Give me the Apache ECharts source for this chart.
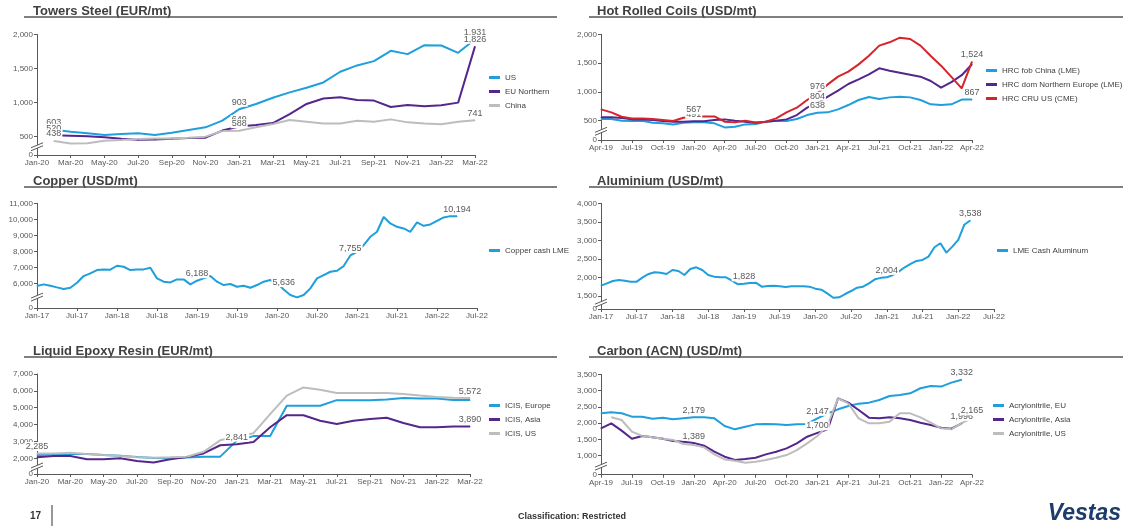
<!DOCTYPE html>
<html>
<head>
<meta charset="utf-8">
<script src="https://cdn.jsdelivr.net/npm/echarts@6/dist/echarts.min.js"></script>
<style>
html,body{margin:0;padding:0;background:#fff;}
#chart{width:1123px;height:526px;}
</style>
</head>
<body>
<div id="chart"></div>
<script>
const MON = ['Jan','Feb','Mar','Apr','May','Jun','Jul','Aug','Sep','Oct','Nov','Dec'];
function months(m0, y0, n) {//month labels like Jan-20
    const out = [];
    for (let k = 0; k < n; k++) {
        out.push(MON[(m0 + k) % 12] + '-' + String(y0 + Math.floor((m0 + k) / 12)).slice(-2));
    }
    return out;
}

// Towers steel, Jan-20 .. Mar-22
const steelMonths = months(0, 2020, 27);
const steelUS    = [null, 603, 573, 549, 524, 539, 549, 524, 559, 598, 637, 735, 903, 979, 1072, 1150, 1218, 1296, 1453, 1546, 1609, 1760, 1712, 1844, 1839, 1731, 1931];
const steelEU    = [null, 520, 515, 505, 490, 470, 455, 460, 470, 480, 485, 590, 649, 670, 700, 830, 980, 1060, 1080, 1040, 1030, 935, 965, 945, 960, 1000, 1826];
const steelChina = [null, 438, 400, 402, 441, 451, 466, 475, 475, 485, 500, 583, 588, 637, 686, 745, 720, 695, 695, 735, 720, 754, 710, 695, 681, 720, 741];

// Hot rolled coils, Apr-19 .. Apr-22
const hrcMonths = months(3, 2019, 37);
const hrcChina  = [529, 529, 500, 494, 500, 465, 454, 436, 465, 471, 471, 454, 384, 396, 436, 442, 483, 500, 494, 529, 598, 638, 645, 697, 772, 859, 911, 876, 905, 917, 905, 859, 784, 772, 784, 867, 867];
const hrcEurope = [558, 558, 546, 523, 523, 512, 494, 483, 480, 491, 491, 512, 523, 500, 483, 465, 483, 500, 523, 598, 726, 804, 917, 1021, 1137, 1218, 1305, 1409, 1368, 1334, 1299, 1264, 1189, 1073, 1170, 1290, 1480];
const hrcUS     = [697, 645, 569, 540, 540, 529, 512, 494, 552, 567, 572, 575, 483, 471, 500, 471, 483, 540, 645, 726, 859, 976, 1130, 1265, 1351, 1478, 1629, 1803, 1861, 1942, 1919, 1803, 1623, 1455, 1260, 1060, 1524];

// Copper, Jan-17 .. Jul-22
const metalMonths = months(0, 2017, 67);
const copper = [5855, 5960, 5876, 5772, 5669, 5751, 6062, 6476, 6641, 6849, 6890, 6870, 7118, 7056, 6849, 6890, 6890, 6994, 6331, 6124, 6083, 6269, 6269, 5960, 6188, 6331, 6476, 6124, 5917, 5979, 5814, 5876, 5751, 5917, 6124, 6228, 6050, 5636, 5296, 5151, 5296, 5710, 6331, 6538, 6745, 6807, 7097, 7755, 7987, 8401, 8919, 9229, 10150, 9747, 9540, 9436, 9229, 9809, 9602, 9685, 9912, 10119, 10202, 10194];

// Aluminium, Jan-17 .. Jul-22
const aluminium = [1779, 1842, 1905, 1932, 1914, 1887, 1887, 2004, 2094, 2139, 2130, 2094, 2202, 2175, 2067, 2229, 2274, 2202, 2067, 2022, 2004, 2004, 1914, 1815, 1828, 1851, 1860, 1752, 1770, 1779, 1761, 1743, 1761, 1761, 1761, 1752, 1698, 1671, 1572, 1455, 1464, 1554, 1635, 1725, 1752, 1842, 1950, 1990, 2004, 2067, 2157, 2274, 2364, 2445, 2472, 2562, 2814, 2922, 2670, 2832, 3012, 3420, 3538];

// Liquid epoxy resin, Jan-20 .. Mar-22
const epoxyEurope = [2200, 2230, 2250, 2250, 2200, 2150, 2080, 2020, 2000, 2050, 2100, 2100, 3050, 3318, 3318, 5120, 5120, 5120, 5450, 5450, 5450, 5490, 5580, 5540, 5540, 5460, 5460];
const epoxyAsia   = [2058, 2136, 2136, 1942, 1942, 2000, 1845, 1748, 1942, 2078, 2291, 2775, 2841, 2969, 3841, 4558, 4558, 4229, 4035, 4229, 4326, 4403, 4093, 3841, 3841, 3880, 3890];
const epoxyUS     = [2285, 2290, 2330, 2250, 2194, 2136, 2058, 2039, 2058, 2097, 2388, 3066, 3300, 3490, 4616, 5721, 6205, 6070, 5876, 5876, 5876, 5876, 5818, 5721, 5643, 5585, 5572];

// Carbon (acrylonitrile), Apr-19 .. Apr-22
const acnEU   = [2302, 2333, 2302, 2199, 2199, 2138, 2169, 2117, 2148, 2179, 2179, 2148, 1912, 1810, 1892, 1963, 1974, 1963, 1943, 1963, 1974, 2147, 2302, 2425, 2527, 2599, 2630, 2712, 2835, 2866, 2917, 3071, 3142, 3122, 3245, 3332, null];
const acnAsia = [1840, 1994, 1770, 1523, 1605, 1564, 1523, 1451, 1430, 1389, 1307, 1123, 969, 867, 898, 938, 1041, 1123, 1225, 1379, 1584, 1700, 1810, 2763, 2630, 2404, 2169, 2148, 2179, 2148, 2097, 2015, 1943, 1860, 1830, 1996, null];
const acnUS   = [null, 2180, 2097, 1738, 1605, 1564, 1523, 1482, 1359, 1328, 1256, 1041, 887, 846, 785, 815, 867, 938, 1020, 1174, 1379, 1605, 1943, 2763, 2609, 2148, 1994, 1994, 2046, 2302, 2302, 2179, 2015, 1840, 1810, 2000, 2165];

const CYAN = '#1f9fdc', PURPLE = '#55278c', GREY = '#bdbdbd', RED = '#d7242a';
const TXT = '#595959';
const FONT = '"Liberation Sans", Arial, sans-serif';

const panels = [
    {title: 'Towers Steel (EUR/mt)', tl: 33, tt: 5, grid: {left: 37, top: 34.5, width: 438, height: 120.5},
     cats: steelMonths, step: 2, min: 231, max: 2000, ticks: [500, 1000, 1500, 2000], legend: {left: 489, top: 72},
     series: [
        {name: 'US', data: steelUS, color: CYAN, labels: [1, 12, 26]},
        {name: 'EU Northern', data: steelEU, color: PURPLE, labels: [1, 12, 26]},
        {name: 'China', data: steelChina, color: GREY, labels: [1, 12, 26]}
     ]},
    {title: 'Hot Rolled Coils (USD/mt)', tl: 597, tt: 5, grid: {left: 601, top: 34.3, width: 371, height: 105.7},
     cats: hrcMonths, step: 3, min: 165, max: 2000, ticks: [500, 1000, 1500, 2000], legend: {left: 986, top: 65},
     series: [
        {name: 'HRC fob China (LME)', data: hrcChina, color: CYAN, labels: [21, 36]},
        {name: 'HRC dom Northern Europe (LME)', data: hrcEurope, color: PURPLE, labels: [9, 21]},
        {name: 'HRC CRU US (CME)', data: hrcUS, color: RED, labels: [9, 21, 36]}
     ]},
    {title: 'Copper (USD/mt)', tl: 33, tt: 175, grid: {left: 37, top: 203.3, width: 440, height: 104.7},
     cats: metalMonths, step: 6, min: 4490, max: 11000, ticks: [6000, 7000, 8000, 9000, 10000, 11000], legend: {left: 489, top: 245},
     series: [
        {name: 'Copper cash LME', data: copper, color: CYAN, labels: [24, 37, 47, 63]}
     ]},
    {title: 'Aluminium (USD/mt)', tl: 597, tt: 175, grid: {left: 601, top: 203.3, width: 393, height: 105.7},
     cats: metalMonths, step: 6, min: 1150, max: 4000, ticks: [1500, 2000, 2500, 3000, 3500, 4000], legend: {left: 997, top: 245},
     series: [
        {name: 'LME Cash Aluminum', data: aluminium, color: CYAN, labels: [24, 48, 62]}
     ]},
    {title: 'Liquid Epoxy Resin (EUR/mt)', tl: 33, tt: 345, grid: {left: 37, top: 374, width: 433, height: 100},
     cats: steelMonths, step: 2, min: 1070, max: 7000, ticks: [2000, 3000, 4000, 5000, 6000, 7000], legend: {left: 489, top: 400},
     series: [
        {name: 'ICIS, Europe', data: epoxyEurope, color: CYAN, labels: []},
        {name: 'ICIS, Asia', data: epoxyAsia, color: PURPLE, labels: [12, 26]},
        {name: 'ICIS, US', data: epoxyUS, color: GREY, labels: [0, 26]}
     ]},
    {title: 'Carbon (ACN) (USD/mt)', tl: 597, tt: 345, grid: {left: 601, top: 374.3, width: 371, height: 100.4},
     cats: hrcMonths, step: 3, min: 417, max: 3500, ticks: [1000, 1500, 2000, 2500, 3000, 3500], legend: {left: 993, top: 400},
     series: [
        {name: 'Acrylonitrile, EU', data: acnEU, color: CYAN, labels: [9, 21, 35]},
        {name: 'Acrylonitrile, Asia', data: acnAsia, color: PURPLE, labels: [9, 21, 35]},
        {name: 'Acrylonitrile, US', data: acnUS, color: GREY, labels: [36]}
     ]}
];

function fmt(v) {
    return String(v).replace(/\B(?=(\d{3})+(?!\d))/g, ',');
}

const chart = echarts.init(document.getElementById('chart'));

let series = [];
panels.forEach((p, i) => {
    p.series.forEach(s => {
        series.push({
            name: s.name,
            type: 'line',
            xAxisIndex: i,
            yAxisIndex: i,
            data: s.data.map((v, k) => s.labels.includes(k) ? {value: v, label: {show: true}} : v),
            color: s.color,
            symbol: 'circle',
            symbolSize: 1,
            showSymbol: true,
            showAllSymbol: true,
            lineStyle: {width: 2, color: s.color},
            itemStyle: {color: s.color},
            label: {
                show: false, position: 'top', distance: 2,
                fontSize: 9, color: TXT, fontFamily: FONT,
                backgroundColor: '#fff', padding: [0, 1],
                formatter: q => fmt(q.value)
            },
            emphasis: {disabled: true}
        });
    });
});

const option = {
    animation: false,
    backgroundColor: '#fff',
    textStyle: {fontFamily: FONT},
    title: panels.map(p => ({
        text: p.title, left: p.tl, top: p.tt, padding: 0,
        textStyle: {fontSize: 13, fontWeight: 'bold', color: '#404040', fontFamily: FONT}
    })),
    legend: panels.map(p => ({
        data: p.series.map(s => s.name),
        left: p.legend.left, top: p.legend.top,
        orient: 'vertical', padding: 0,
        icon: 'rect', itemWidth: 11, itemHeight: 3, itemGap: 3,
        selectedMode: false,
        textStyle: {fontSize: 8, color: '#404040', fontFamily: FONT, lineHeight: 11}
    })),
    grid: panels.map(p => Object.assign({containLabel: false}, p.grid)),
    xAxis: panels.map((p, i) => ({
        type: 'category', gridIndex: i, data: p.cats, boundaryGap: false,
        axisLine: {lineStyle: {color: TXT, width: 1}},
        axisTick: {show: true, interval: p.step - 1, length: 3, lineStyle: {color: TXT}},
        axisLabel: {interval: p.step - 1, fontSize: 8, color: TXT, margin: 4, fontFamily: FONT}
    })),
    yAxis: panels.map((p, i) => {
        const vals = [p.min].concat(p.ticks);
        return {
            type: 'value', gridIndex: i, min: p.min, max: p.max,
            axisLine: {show: true, lineStyle: {color: TXT, width: 1}},
            axisTick: {show: true, length: 3, customValues: vals, lineStyle: {color: TXT}},
            axisLabel: {customValues: vals, fontSize: 8, color: TXT, margin: 4, fontFamily: FONT,
                formatter: v => v === p.min ? '0' : fmt(v)},
            splitLine: {show: false}
        };
    }),
    series: series
};
chart.setOption(option);

// title underlines, footer and axis break marks
const g = [];
[17, 187, 357].forEach(y => {
    g.push({type: 'line', shape: {x1: 24, y1: y, x2: 557, y2: y}, style: {stroke: '#555', lineWidth: 1.5}, z: 100});
    g.push({type: 'line', shape: {x1: 589, y1: y, x2: 1123, y2: y}, style: {stroke: '#555', lineWidth: 1.5}, z: 100});
});
panels.forEach((p, i) => {
    const x = chart.convertToPixel({xAxisIndex: i}, 0);
    const y = chart.convertToPixel({yAxisIndex: i}, p.min + (p.ticks[0] - p.min) * 0.45);
    g.push({type: 'polygon', shape: {points: [[x - 6, y + 1], [x + 6, y - 4], [x + 6, y - 1], [x - 6, y + 4]]},
        style: {fill: '#fff'}, z: 100});
    g.push({type: 'line', shape: {x1: x - 6, y1: y + 1, x2: x + 6, y2: y - 4}, style: {stroke: TXT, lineWidth: 1}, z: 101});
    g.push({type: 'line', shape: {x1: x - 6, y1: y + 4, x2: x + 6, y2: y - 1}, style: {stroke: TXT, lineWidth: 1}, z: 101});
});
g.push({type: 'text', left: 30, top: 511, style: {text: '17', fontSize: 10, fontWeight: 'bold', fill: '#333', fontFamily: FONT}});
g.push({type: 'line', shape: {x1: 52, y1: 505, x2: 52, y2: 526}, style: {stroke: '#333', lineWidth: 1}});
g.push({type: 'text', left: 518, top: 512, style: {text: 'Classification: Restricted', fontSize: 9, fontWeight: 'bold', fill: '#333', fontFamily: FONT}});
g.push({type: 'text', right: 2, top: 502, style: {text: 'Vestas', fontSize: 23, fontWeight: 900, fontStyle: 'italic', fill: '#1d3b6c', fontFamily: FONT}});
chart.setOption({graphic: g});
</script>
</body>
</html>
